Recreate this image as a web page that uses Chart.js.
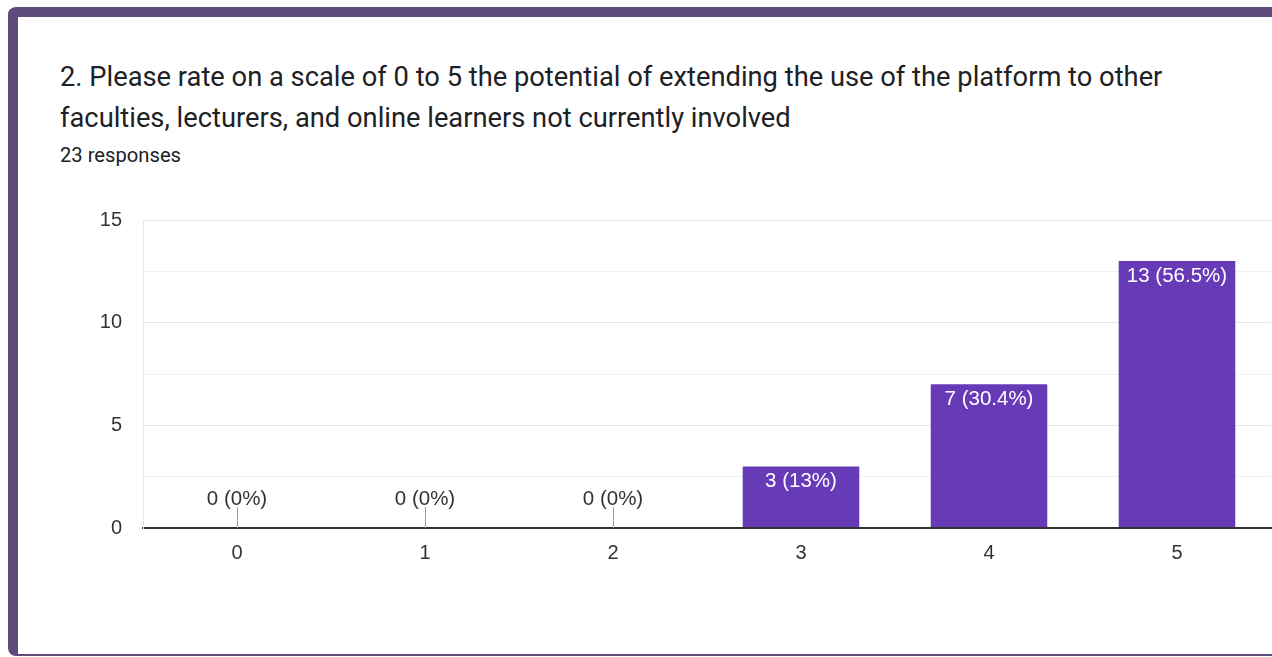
<!DOCTYPE html>
<html>
<head>
<meta charset="utf-8">
<script src="https://cdn.jsdelivr.net/npm/chart.js@4/dist/chart.umd.min.js"></script>
<style>
  html, body { margin: 0; padding: 0; background: #fff; }
  body { width: 1272px; height: 657px; overflow: hidden; position: relative; font-family: Roboto, Arial, sans-serif; }
  .card {
    position: absolute; left: 8px; top: 7px; width: 1320px; height: 637px;
    border-top: 10px solid #5e4a7d; border-left: 10px solid #5e4a7d; border-bottom: 2px solid #5e4a7d;
    border-radius: 8px 0 0 8px; background: #fff;
  }
  .title {
    position: absolute; left: 60px; top: 57px; font-size: 27.3px; line-height: 41px;
    color: #202124; white-space: nowrap;
  }
  .count {
    position: absolute; left: 60px; top: 142px; font-size: 20.2px; line-height: 26px; color: #202124;
  }
  .chart-box { position: absolute; left: 0; top: 180px; width: 1272px; height: 420px; }
</style>
</head>
<body>
<div class="card"></div>
<div class="title">2. Please rate on a scale of 0 to 5 the potential of extending the use of the platform to other<br>faculties, lecturers, and online learners not currently involved</div>
<div class="count" id="count"></div>
<div class="chart-box"><canvas id="ratingChart" width="1272" height="420"></canvas></div>

<script>
// Respuestas por puntuación
const ratings = ['0', '1', '2', '3', '4', '5'];
const counts = [0, 0, 0, 3, 7, 13];
const yTicks = [0, 5, 10, 15];

const total = counts.reduce((a, b) => a + b, 0);
document.getElementById('count').textContent = total + ' responses';

const chartFont = '"Liberation Sans", Arial, sans-serif';

function pctLabel(v) {
    const p = Math.round(v / total * 1000) / 10;
    return v + ' (' + p + '%)';
}

// Etiquetas encima/dentro de cada barra
const barLabels = {
    id: 'barLabels',
    afterDatasetsDraw(chart) {
        const ctx = chart.ctx;
        const meta = chart.getDatasetMeta(0);
        ctx.save();
        ctx.font = '20.5px ' + chartFont;
        ctx.textAlign = 'center';
        ctx.textBaseline = 'alphabetic';
        meta.data.forEach((bar, i) => {
            const v = counts[i];
            if (v === 0) {
                // trazo vertical para barras vacías
                ctx.strokeStyle = '#9e9e9e';
                ctx.lineWidth = 1;
                ctx.beginPath();
                ctx.moveTo(Math.round(bar.x) + 0.5, bar.base);
                ctx.lineTo(Math.round(bar.x) + 0.5, bar.base - 21);
                ctx.stroke();
                ctx.fillStyle = '#333';
                ctx.fillText(pctLabel(v), bar.x, bar.base - 23.5);
            } else {
                ctx.fillStyle = '#fff';
                ctx.fillText(pctLabel(v), bar.x, bar.y + 21);
            }
        });
        ctx.restore();
    }
};

new Chart(document.getElementById('ratingChart'), {
    type: 'bar',
    data: {
        labels: ratings,
        datasets: [{
            data: counts,
            backgroundColor: '#673ab7',
            categoryPercentage: 1,
            barPercentage: 0.62
        }]
    },
    options: {
        responsive: false,
        animation: false,
        layout: { padding: { top: 40, right: 1, left: 0, bottom: 0 } },
        plugins: { legend: { display: false }, tooltip: { enabled: false } },
        scales: {
            x: {
                grid: { display: false, drawTicks: false },
                border: { color: '#333', width: 2 },
                ticks: { color: '#333', font: { family: chartFont, size: 20 }, padding: 13 },
                afterFit(scale) { scale.height = 72; }
            },
            y: {
                min: 0,
                max: 15,
                grid: {
                    drawTicks: false,
                    color: ctx => ctx.tick.value === 0 ? '#333' : (ctx.tick.value % 5 === 0 ? '#e6e6e6' : '#f1f1f1'),
                    lineWidth: ctx => ctx.tick.value === 0 ? 2 : 1
                },
                border: { color: '#e6e6e6', width: 1 },
                ticks: {
                    stepSize: 2.5,
                    color: '#333',
                    font: { family: chartFont, size: 20 },
                    padding: 21,
                    callback: v => yTicks.includes(v) ? String(v) : ''
                },
                afterFit(scale) { scale.width = 143; }
            }
        }
    },
    plugins: [barLabels]
});
</script>
</body>
</html>
